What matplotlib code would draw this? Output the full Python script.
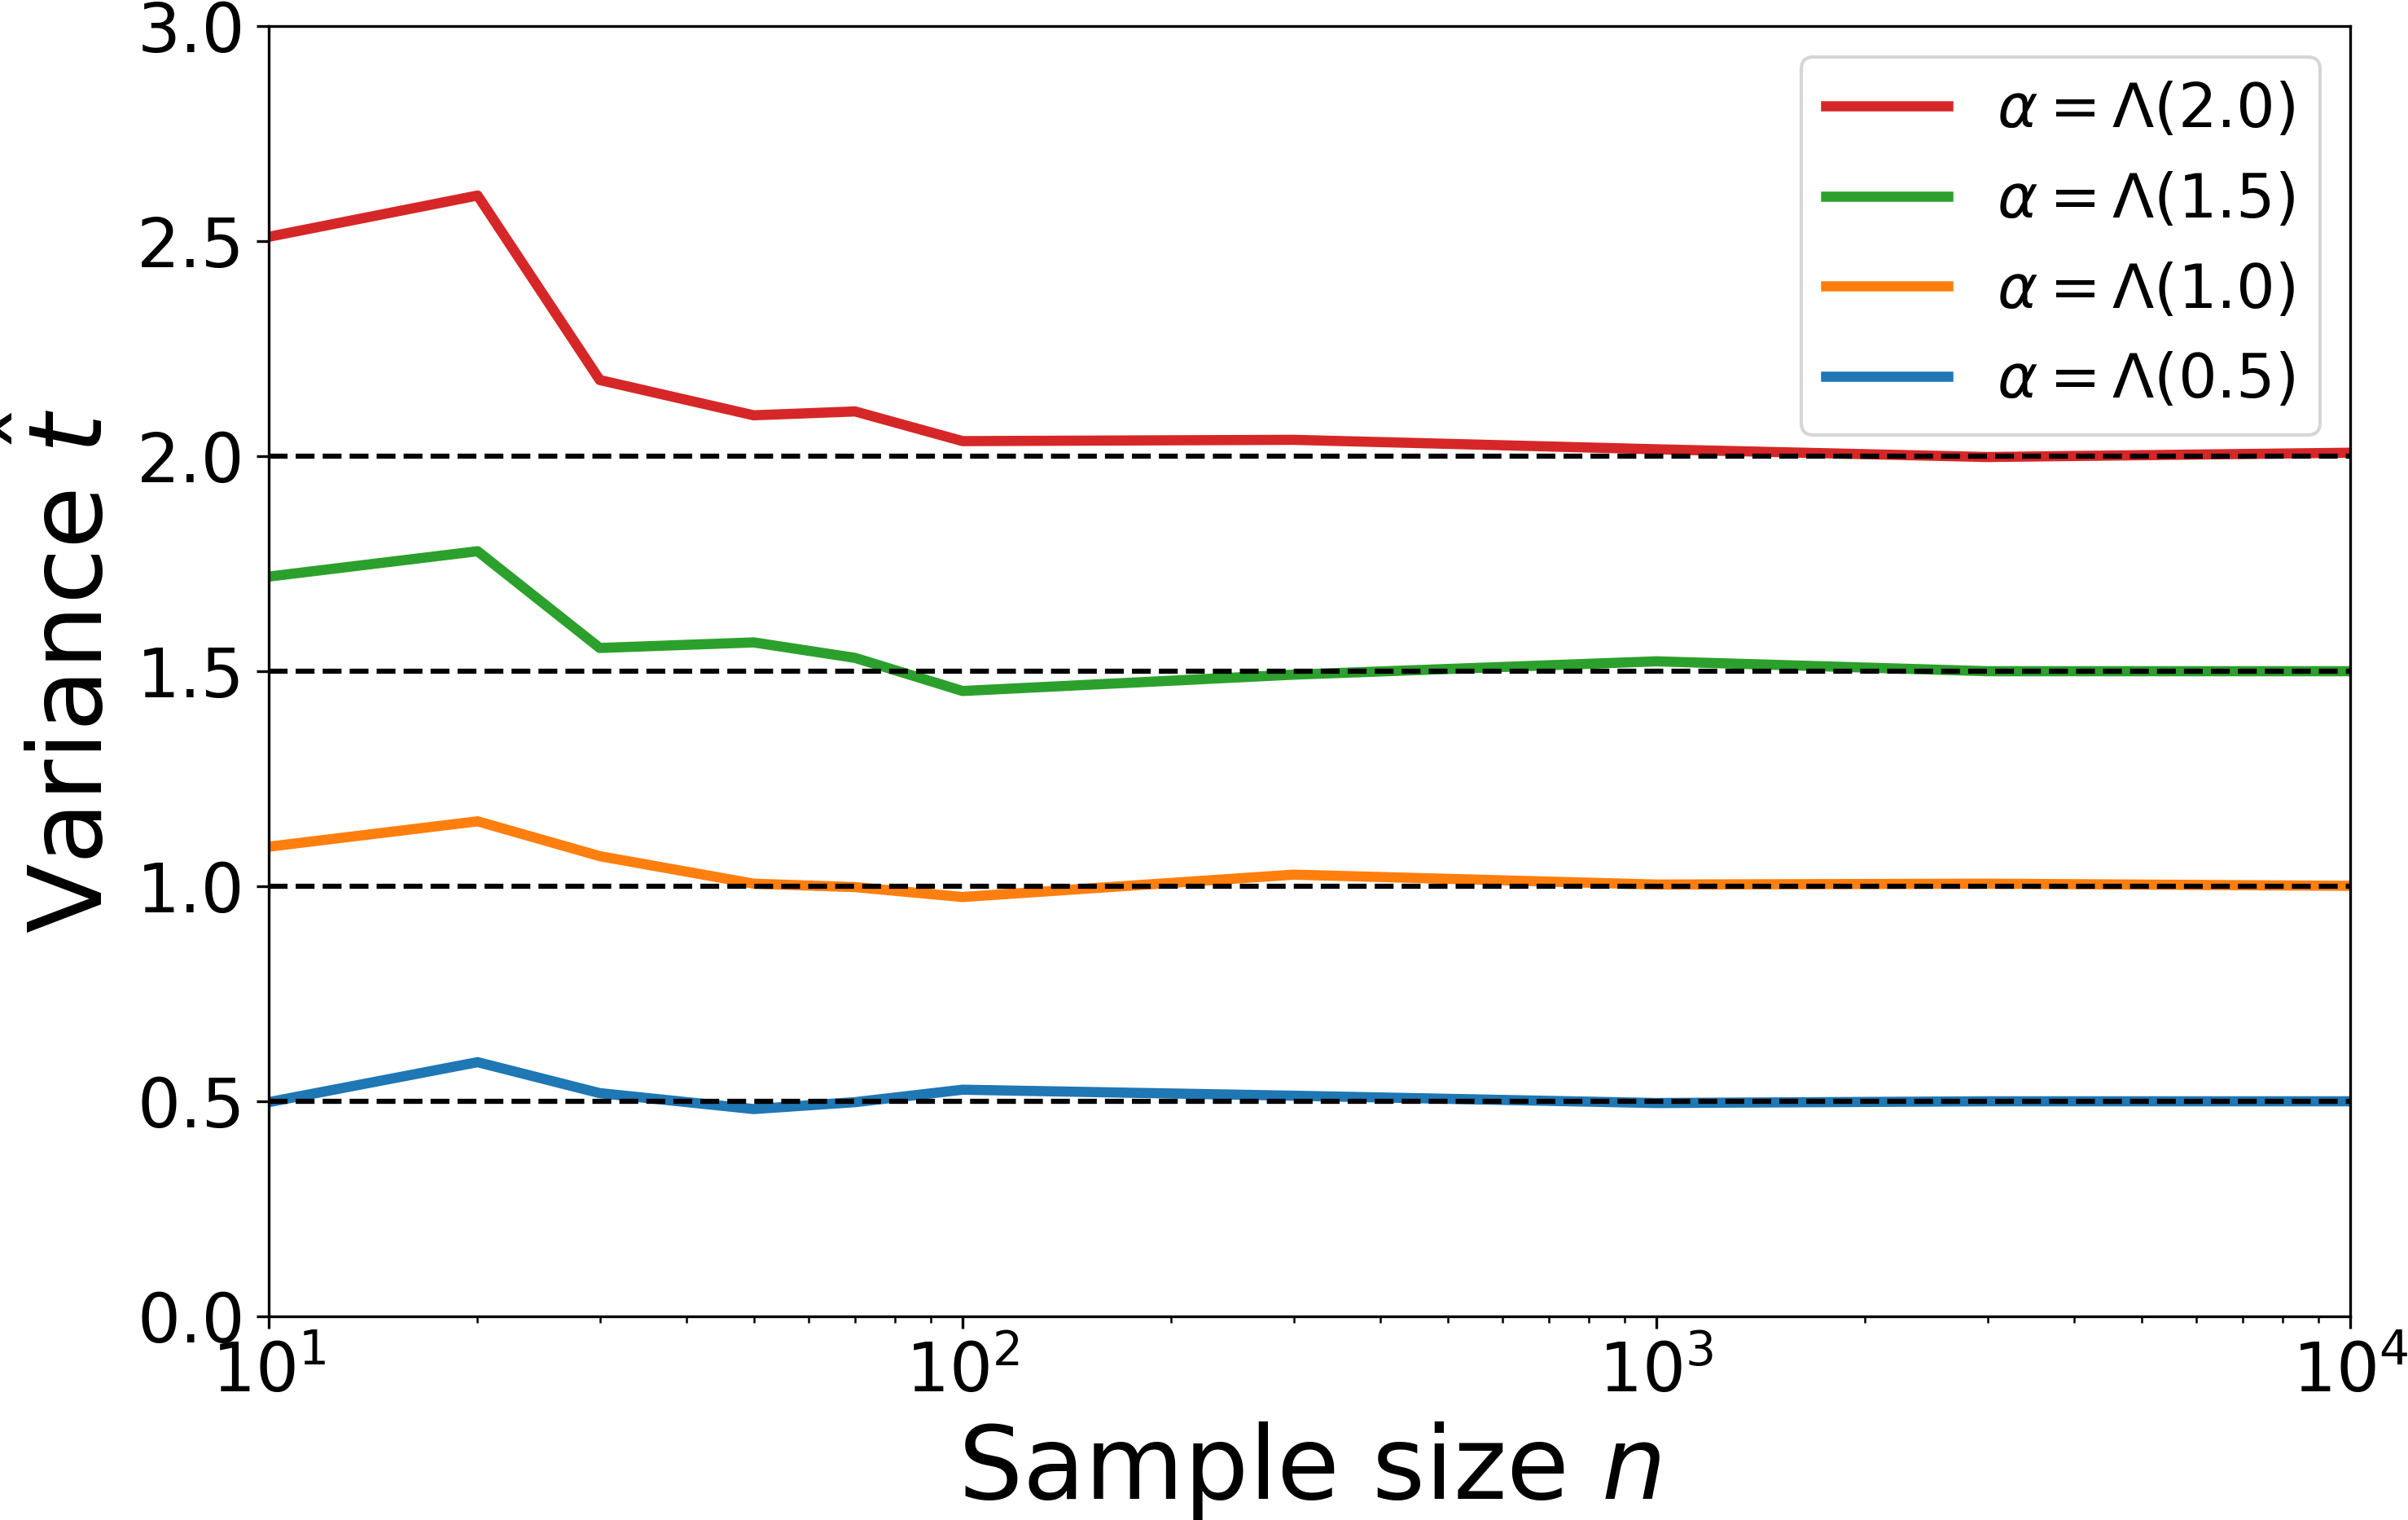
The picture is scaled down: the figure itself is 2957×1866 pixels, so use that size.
import matplotlib
matplotlib.use('Agg')
import matplotlib.pyplot as plt

sample_sizes = [10, 20, 30, 50, 70, 100, 300, 1000, 3000, 10000]

var_20 = [2.510, 2.606, 2.177, 2.095, 2.104, 2.035, 2.038, 2.016, 1.998, 2.008]
var_15 = [1.720, 1.779, 1.554, 1.567, 1.531, 1.454, 1.492, 1.523, 1.500, 1.500]
var_10 = [1.092, 1.151, 1.070, 1.006, 0.998, 0.975, 1.027, 1.004, 1.006, 1.001]
var_05 = [0.498, 0.591, 0.519, 0.482, 0.498, 0.527, 0.513, 0.496, 0.500, 0.500]

true_values = [2.0, 1.5, 1.0, 0.5]
labels = [r'$\alpha = \Lambda(2.0)$', r'$\alpha = \Lambda(1.5)$',
          r'$\alpha = \Lambda(1.0)$', r'$\alpha = \Lambda(0.5)$']
colors = ['tab:red', 'tab:green', 'tab:orange', 'tab:blue']


def plot():
    fig = plt.figure(figsize=(2957 / 300, 1866 / 300), dpi=300)
    ax = fig.add_axes([330 / 2957, 1 - 1616 / 1866, (2886 - 330) / 2957, (1616 - 32) / 1866])

    for y, label, color in zip([var_20, var_15, var_10, var_05], labels, colors):
        ax.plot(sample_sizes, y, color=color, linewidth=3, label=label)

    for v in true_values:
        ax.axhline(v, color='k', linestyle='--', linewidth=1.5)

    ax.set_xscale('log')
    ax.set_xlim(10, 1e4)
    ax.set_ylim(0, 3)

    ax.set_xlabel(r'Sample size $n$', fontsize=30)
    ax.set_ylabel(r'Variance $\hat{t}$', fontsize=30)
    ax.tick_params(axis='both', which='major', labelsize=20)

    ax.legend(loc='upper right', fontsize=18)

    fig.savefig('out.png', dpi=300)


if __name__ == '__main__':
    plot()
